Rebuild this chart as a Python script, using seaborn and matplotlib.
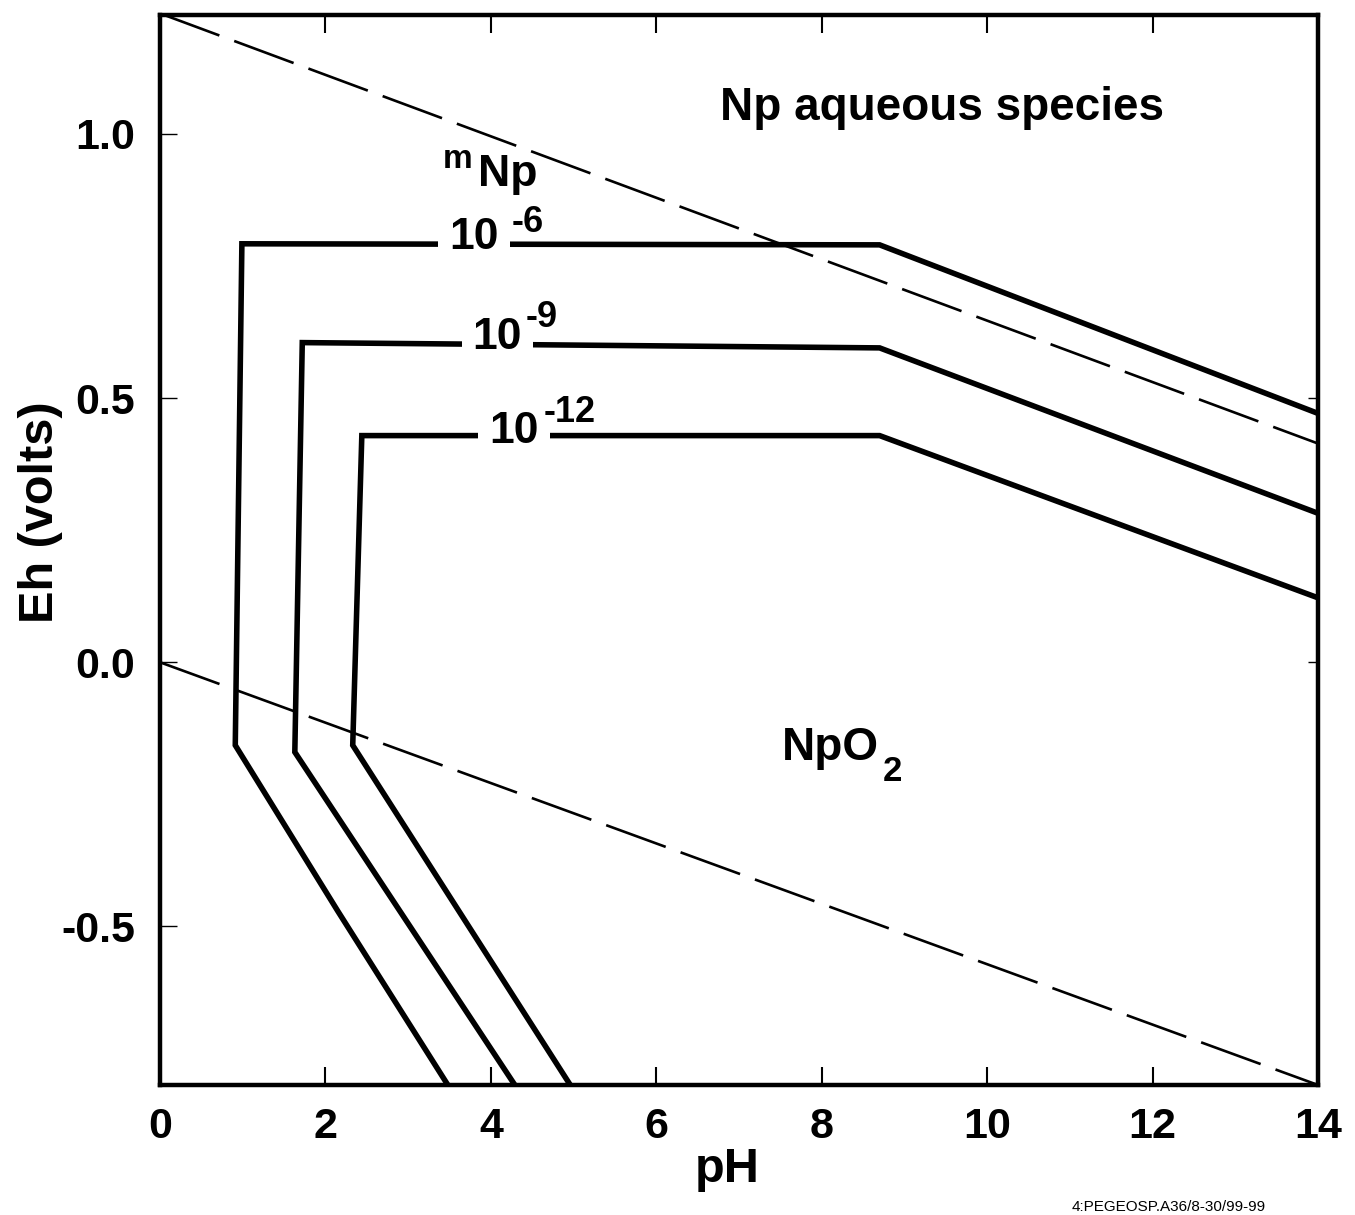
import matplotlib
matplotlib.use("Agg")
import matplotlib.pyplot as plt
import seaborn as sns
import numpy as np
import pandas as pd

# ---- data ----
ph_o2 = [0.0, 14.0]
eh_o2 = [1.228, 0.414]
ph_h2 = [0.0, 14.0]
eh_h2 = [0.0, -0.80]

ph_m6 = [3.48, 2.15, 0.91, 0.99, 8.70, 14.0]
eh_m6 = [-0.80, -0.471, -0.157, 0.792, 0.790, 0.471]
ph_m9 = [4.29, 1.63, 1.72, 8.70, 14.0]
eh_m9 = [-0.80, -0.170, 0.605, 0.595, 0.282]
ph_m12 = [4.96, 2.33, 2.44, 8.70, 14.0]
eh_m12 = [-0.80, -0.157, 0.429, 0.429, 0.122]

x_ticks = [0, 2, 4, 6, 8, 10, 12, 14]
y_ticks = [-0.5, 0.0, 0.5, 1.0]
y_ticklabels = ["-0.5", "0.0", "0.5", "1.0"]

sns.set_theme(style="ticks")
plt.rcParams["font.family"] = ["Liberation Sans", "DejaVu Sans"]
plt.rcParams["font.weight"] = "bold"
for k in ["text.color", "axes.labelcolor", "xtick.color", "ytick.color",
          "xtick.labelcolor", "ytick.labelcolor", "axes.edgecolor"]:
    plt.rcParams[k] = "black"

fig = plt.figure(figsize=(13.55, 12.15), dpi=100)
ax = fig.add_axes([160/1355, 1-1085/1215, (1318-160)/1355, (1085-15)/1215])

dash_kw = dict(color="black", linewidth=1.9, dashes=(24, 6), sort=False, estimator=None)
sns.lineplot(x=ph_o2, y=eh_o2, ax=ax, **dash_kw)
sns.lineplot(x=ph_h2, y=eh_h2, ax=ax, **dash_kw)

solid_kw = dict(color="black", linewidth=4.0, sort=False, estimator=None)
for xs, ys in [(ph_m6, eh_m6), (ph_m9, eh_m9), (ph_m12, eh_m12)]:
    sns.lineplot(x=xs, y=ys, ax=ax, **solid_kw)
for ln in ax.get_lines():
    ln.set_solid_joinstyle("miter")

ax.set_xlim(0, 14)
ax.set_ylim(-0.80, 1.225)

for s in ax.spines.values():
    s.set_linewidth(3.2)
    s.set_color("black")

ax.set_xticks(x_ticks)
ax.set_xticklabels([str(v) for v in x_ticks], fontsize=31, fontweight="bold")
ax.set_yticks(y_ticks)
ax.set_yticklabels(y_ticklabels, fontsize=31, fontweight="bold")
ax.tick_params(axis="x", direction="in", top=True, bottom=True, length=13, width=1.5, pad=16)
ax.tick_params(axis="y", direction="in", left=True, right=False, length=12, width=1.0, pad=18)

sec = ax.secondary_yaxis("right")
sec.set_yticks([0.0, 0.5])
sec.set_yticklabels([])
sec.tick_params(direction="in", length=7, width=1.0)
sec.spines["right"].set_visible(False)

ax.set_xlabel("pH", fontsize=35, fontweight="bold")
ax.set_ylabel("Eh (volts)", fontsize=35, fontweight="bold")
ax.xaxis.set_label_coords(0.49, -0.058)
ax.yaxis.set_label_coords(-0.084, 0.535)

# annotations
ax.text(9.45, 1.049, "Np aqueous species", fontsize=33, fontweight="bold", ha="center", va="center")
ax.text(3.60, 0.951, "m", fontsize=24, fontweight="bold", ha="center", va="center")
ax.text(4.21, 0.924, "Np", fontsize=32, fontweight="bold", ha="center", va="center")

box = dict(boxstyle="square,pad=0.25", facecolor="white", edgecolor="none")
labels = [("10", 3.80, 0.803, "-6", 4.44, 0.832),
          ("10", 4.08, 0.614, "-9", 4.62, 0.652),
          ("10", 4.28, 0.437, "-12", 4.95, 0.473)]
for base, bx, by, sup, sx, sy in labels:
    ax.text(bx, by, base, fontsize=32, fontweight="bold", ha="center", va="center",
            bbox=box, zorder=5)
    ax.text(sx, sy, sup, fontsize=26, fontweight="bold", ha="center", va="center", zorder=6)

ax.text(8.10, -0.163, "NpO", fontsize=33, fontweight="bold", ha="center", va="center")
ax.text(8.86, -0.206, "2", fontsize=25, fontweight="bold", ha="center", va="center")

fig.text(1072/1355, 1-1200/1215, "4:PEGEOSP.A36/8-30/99-99", fontsize=11,
         fontweight="normal", ha="left", va="top", color="black")

fig.savefig("out.png", dpi=100)
